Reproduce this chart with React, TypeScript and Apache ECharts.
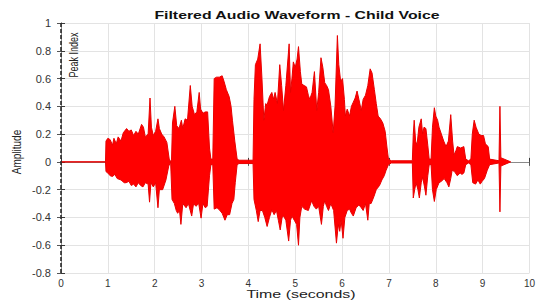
import React, { useEffect, useRef } from "react";
import * as echarts from "echarts";

// Waveform envelopes: [time (s), amplitude]
const upperEnvelope: [number, number][] = [
  [0, 0], [0.95, 0], [0.96, 0.15], [1.0, 0.17], [1.05, 0.16], [1.1, 0.12], [1.13, 0.17], [1.18, 0.13],
  [1.22, 0.18], [1.28, 0.15], [1.33, 0.21], [1.4, 0.24], [1.45, 0.22], [1.5, 0.23], [1.55, 0.19],
  [1.6, 0.22], [1.65, 0.2], [1.72, 0.27], [1.76, 0.25], [1.8, 0.18], [1.86, 0.2], [1.9, 0.46],
  [1.93, 0.25], [1.97, 0.19], [2.02, 0.22], [2.07, 0.31], [2.1, 0.24], [2.15, 0.2], [2.2, 0.18],
  [2.26, 0.14], [2.31, 0.02], [2.34, 0], [2.36, 0.02], [2.38, 0.28], [2.43, 0.4], [2.47, 0.26],
  [2.52, 0.24], [2.57, 0.3], [2.6, 0.24], [2.65, 0.31], [2.7, 0.3], [2.76, 0.55], [2.8, 0.4],
  [2.85, 0.34], [2.9, 0.36], [2.95, 0.5], [2.98, 0.38], [3.03, 0.35], [3.08, 0.36], [3.13, 0.36],
  [3.17, 0.1], [3.2, 0.02], [3.24, 0.02], [3.27, 0.6], [3.32, 0.61], [3.38, 0.61], [3.44, 0.62],
  [3.48, 0.58], [3.53, 0.52], [3.59, 0.47], [3.63, 0.4], [3.66, 0.3], [3.71, 0.15], [3.76, 0.02],
  [3.8, 0.012], [4.0, 0.012], [4.1, 0.012], [4.12, 0.45], [4.15, 0.7], [4.2, 0.74], [4.25, 0.85],
  [4.29, 0.6], [4.33, 0.3], [4.37, 0.42], [4.4, 0.41], [4.45, 0.47], [4.5, 0.5], [4.54, 0.45],
  [4.57, 0.5], [4.62, 0.42], [4.67, 0.7], [4.71, 0.55], [4.75, 0.37], [4.8, 0.55], [4.87, 0.85],
  [4.9, 0.5], [4.93, 0.6], [4.96, 0.72], [5.0, 0.68], [5.04, 0.74], [5.07, 0.83], [5.11, 0.65],
  [5.14, 0.56], [5.19, 0.55], [5.24, 0.54], [5.28, 0.48], [5.31, 0.45], [5.36, 0.5], [5.41, 0.65],
  [5.46, 0.37], [5.5, 0.5], [5.55, 0.75], [5.59, 0.68], [5.63, 0.57], [5.67, 0.55], [5.71, 0.52],
  [5.76, 0.4], [5.81, 0.21], [5.85, 0.4], [5.9, 0.91], [5.93, 0.7], [5.97, 0.58], [6.01, 0.6],
  [6.05, 0.45], [6.07, 0.33], [6.11, 0.38], [6.16, 0.33], [6.2, 0.4], [6.24, 0.43], [6.28, 0.46],
  [6.32, 0.51], [6.36, 0.45], [6.41, 0.37], [6.45, 0.45], [6.5, 0.48], [6.55, 0.55], [6.6, 0.67],
  [6.64, 0.64], [6.69, 0.52], [6.73, 0.42], [6.77, 0.33], [6.82, 0.31], [6.87, 0.28], [6.92, 0.22],
  [6.96, 0.1], [6.99, 0.02], [7.05, 0.008], [7.5, 0.008], [7.52, 0.2], [7.54, 0.3], [7.57, 0.15],
  [7.6, 0.12], [7.64, 0.25], [7.69, 0.31], [7.72, 0.2], [7.75, 0.25], [7.79, 0.24], [7.83, 0.12],
  [7.86, 0.02], [7.9, 0.02], [7.93, 0.25], [7.97, 0.39], [8.0, 0.33], [8.04, 0.3], [8.07, 0.25],
  [8.12, 0.2], [8.17, 0.15], [8.22, 0.11], [8.27, 0.15], [8.32, 0.34], [8.36, 0.15], [8.39, 0.05],
  [8.43, 0.08], [8.46, 0.11], [8.53, 0.1], [8.6, 0.11], [8.64, 0.02], [8.7, 0.008], [8.75, 0.02],
  [8.78, 0.2], [8.82, 0.3], [8.86, 0.25], [8.92, 0.2], [8.97, 0.19], [9.02, 0.19], [9.06, 0.13],
  [9.12, 0.11], [9.15, 0.02], [9.35, 0.008], [9.37, 0.4], [9.39, 0.03], [9.6, 0],
];

const lowerEnvelope: [number, number][] = [
  [0, 0], [0.95, 0], [0.96, -0.07], [1.0, -0.08], [1.05, -0.1], [1.1, -0.105], [1.15, -0.09],
  [1.2, -0.12], [1.28, -0.13], [1.35, -0.15], [1.39, -0.15], [1.45, -0.14], [1.5, -0.17],
  [1.55, -0.16], [1.6, -0.18], [1.65, -0.15], [1.7, -0.17], [1.75, -0.18], [1.8, -0.15],
  [1.86, -0.16], [1.89, -0.29], [1.92, -0.15], [1.97, -0.18], [2.02, -0.15], [2.07, -0.33],
  [2.1, -0.2], [2.17, -0.2], [2.24, -0.13], [2.3, -0.03], [2.34, 0], [2.37, -0.27], [2.42, -0.3],
  [2.46, -0.35], [2.49, -0.37], [2.53, -0.35], [2.56, -0.45], [2.6, -0.3], [2.67, -0.33],
  [2.72, -0.3], [2.79, -0.39], [2.83, -0.3], [2.88, -0.32], [2.94, -0.3], [2.99, -0.405],
  [3.03, -0.3], [3.08, -0.33], [3.12, -0.32], [3.17, -0.1], [3.2, -0.02], [3.24, -0.02],
  [3.27, -0.34], [3.33, -0.33], [3.38, -0.345], [3.44, -0.37], [3.5, -0.42], [3.55, -0.38],
  [3.6, -0.38], [3.65, -0.3], [3.69, -0.27], [3.72, -0.15], [3.76, -0.02], [3.8, -0.012],
  [4.1, -0.012], [4.12, -0.27], [4.17, -0.35], [4.21, -0.43], [4.25, -0.35], [4.3, -0.35],
  [4.35, -0.4], [4.4, -0.465], [4.45, -0.4], [4.5, -0.345], [4.55, -0.38], [4.6, -0.35],
  [4.64, -0.42], [4.68, -0.49], [4.72, -0.4], [4.75, -0.39], [4.8, -0.42], [4.86, -0.57],
  [4.9, -0.42], [4.93, -0.39], [4.98, -0.42], [5.03, -0.45], [5.07, -0.6], [5.1, -0.4],
  [5.14, -0.32], [5.2, -0.34], [5.28, -0.35], [5.35, -0.28], [5.4, -0.32], [5.45, -0.34],
  [5.5, -0.32], [5.56, -0.45], [5.6, -0.32], [5.63, -0.28], [5.67, -0.32], [5.71, -0.35],
  [5.76, -0.3], [5.82, -0.35], [5.88, -0.585], [5.92, -0.45], [5.95, -0.5], [5.98, -0.42],
  [6.02, -0.55], [6.06, -0.4], [6.11, -0.35], [6.16, -0.34], [6.2, -0.37], [6.24, -0.39],
  [6.3, -0.33], [6.36, -0.31], [6.41, -0.33], [6.45, -0.35], [6.5, -0.3], [6.55, -0.42],
  [6.58, -0.3], [6.62, -0.3], [6.68, -0.25], [6.73, -0.2], [6.8, -0.17], [6.85, -0.13],
  [6.9, -0.1], [6.94, -0.06], [6.99, -0.02], [7.05, -0.008], [7.5, -0.008], [7.52, -0.26],
  [7.55, -0.2], [7.58, -0.15], [7.62, -0.2], [7.65, -0.26], [7.69, -0.15], [7.72, -0.11],
  [7.76, -0.18], [7.79, -0.24], [7.83, -0.1], [7.86, -0.02], [7.9, -0.02], [7.93, -0.2],
  [7.97, -0.285], [8.01, -0.2], [8.07, -0.15], [8.12, -0.14], [8.18, -0.12], [8.24, -0.15],
  [8.28, -0.18], [8.32, -0.12], [8.35, -0.06], [8.4, -0.07], [8.46, -0.1], [8.52, -0.08],
  [8.56, -0.09], [8.6, -0.08], [8.64, -0.02], [8.7, -0.008], [8.75, -0.02], [8.79, -0.15],
  [8.85, -0.16], [8.9, -0.13], [8.95, -0.16], [8.99, -0.14], [9.04, -0.12], [9.1, -0.06],
  [9.15, -0.02], [9.35, -0.008], [9.37, -0.36], [9.39, -0.03], [9.6, 0],
];

const peakIndexTimes: number[] = [0];

const X_MIN = 0;
const X_MAX = 10;
const X_STEP = 1;
const Y_MIN = -0.8;
const Y_MAX = 1;
const Y_STEP = 0.2;

const TITLE = "Filtered Audio Waveform - Child Voice";
const X_NAME = "Time (seconds)";
const Y_NAME = "Amplitude";
const PEAK_LABEL = "Peak Index";

const FONT = "Liberation Sans, Arial, Helvetica, sans-serif";

export default function App() {
  const ref = useRef<HTMLDivElement>(null);

  useEffect(() => {
    if (!ref.current) return;
    const chart = echarts.init(ref.current, undefined, { renderer: "svg" });

    const waveStyle = {
      type: "line" as const,
      showSymbol: false,
      symbol: "none",
      smooth: false,
      lineStyle: { color: "#e80000", width: 1 },
      areaStyle: { color: "#ff0000", opacity: 1 },
      silent: true,
      xAxisIndex: 0,
      yAxisIndex: 0,
    };

    const gridLine = { show: true, lineStyle: { color: "#e3e3e3", width: 1 } };

    chart.setOption({
      animation: false,
      backgroundColor: "#ffffff",
      grid: { left: 61, right: 6, top: 23, bottom: 34, containLabel: false },
      xAxis: [
        {
          type: "value",
          min: X_MIN,
          max: X_MAX,
          interval: X_STEP,
          position: "bottom",
          axisLine: { show: true, lineStyle: { color: "#3a3a3a", width: 1 } },
          axisTick: { show: true, inside: true, length: 4, lineStyle: { color: "#3a3a3a" } },
          axisLabel: { color: "#333", fontSize: 10, fontFamily: FONT, margin: 5 },
          splitLine: gridLine,
        },
        {
          type: "value",
          min: X_MIN,
          max: X_MAX,
          interval: X_STEP,
          position: "top",
          axisLine: { show: true, lineStyle: { color: "#8a8a8a", width: 1 } },
          axisTick: { show: true, inside: true, length: 4, lineStyle: { color: "#555" } },
          axisLabel: { show: false },
          splitLine: { show: false },
        },
      ],
      yAxis: [
        {
          type: "value",
          min: Y_MIN,
          max: Y_MAX,
          interval: Y_STEP,
          position: "left",
          axisLine: { show: true, lineStyle: { color: "#3a3a3a", width: 1 } },
          axisTick: { show: true, inside: true, length: 4, lineStyle: { color: "#3a3a3a" } },
          axisLabel: {
            color: "#333",
            fontSize: 11,
            fontFamily: FONT,
            margin: 10,
            formatter: (v: number) => String(Math.round(v * 10) / 10),
          },
          splitLine: gridLine,
        },
        {
          type: "value",
          min: Y_MIN,
          max: Y_MAX,
          interval: Y_STEP,
          position: "right",
          axisLine: { show: true, lineStyle: { color: "#8a8a8a", width: 1 } },
          axisTick: { show: true, inside: true, length: 4, lineStyle: { color: "#555" } },
          axisLabel: { show: false },
          splitLine: { show: false },
        },
      ],
      series: [
        { ...waveStyle, name: "upper", data: upperEnvelope },
        { ...waveStyle, name: "lower", data: lowerEnvelope },
        {
          type: "line",
          name: "peak",
          data: [],
          xAxisIndex: 0,
          yAxisIndex: 0,
          z: 10,
          markLine: {
            silent: true,
            symbol: "none",
            label: { show: false },
            lineStyle: { color: "#2a2a2a", type: [4, 2], width: 1.6 },
            data: peakIndexTimes.map((t) => ({ xAxis: t })),
          },
        },
      ],
      graphic: [
        {
          type: "text",
          x: 297,
          y: 15,
          scaleX: 1.44,
          style: {
            text: TITLE,
            fontSize: 11,
            fontWeight: "bold",
            fontFamily: FONT,
            fill: "#111",
            align: "center",
            verticalAlign: "middle",
          },
        },
        {
          type: "text",
          x: 301,
          y: 294,
          scaleX: 1.45,
          style: {
            text: X_NAME,
            fontSize: 11,
            fontFamily: FONT,
            fill: "#222",
            align: "center",
            verticalAlign: "middle",
          },
        },
        {
          type: "text",
          x: 16,
          y: 152,
          rotation: Math.PI / 2,
          scaleY: 1.35,
          style: {
            text: Y_NAME,
            fontSize: 10,
            fontFamily: FONT,
            fill: "#222",
            align: "center",
            verticalAlign: "middle",
          },
        },
        {
          type: "text",
          x: 73,
          y: 55,
          rotation: Math.PI / 2,
          scaleY: 1.4,
          style: {
            text: PEAK_LABEL,
            fontSize: 9,
            fontFamily: FONT,
            fill: "#222",
            align: "center",
            verticalAlign: "middle",
          },
        },
      ],
    });

    return () => chart.dispose();
  }, []);

  return (
    <div
      ref={ref}
      style={{ position: "fixed", left: 0, top: 0, width: 538, height: 307 }}
    />
  );
}
